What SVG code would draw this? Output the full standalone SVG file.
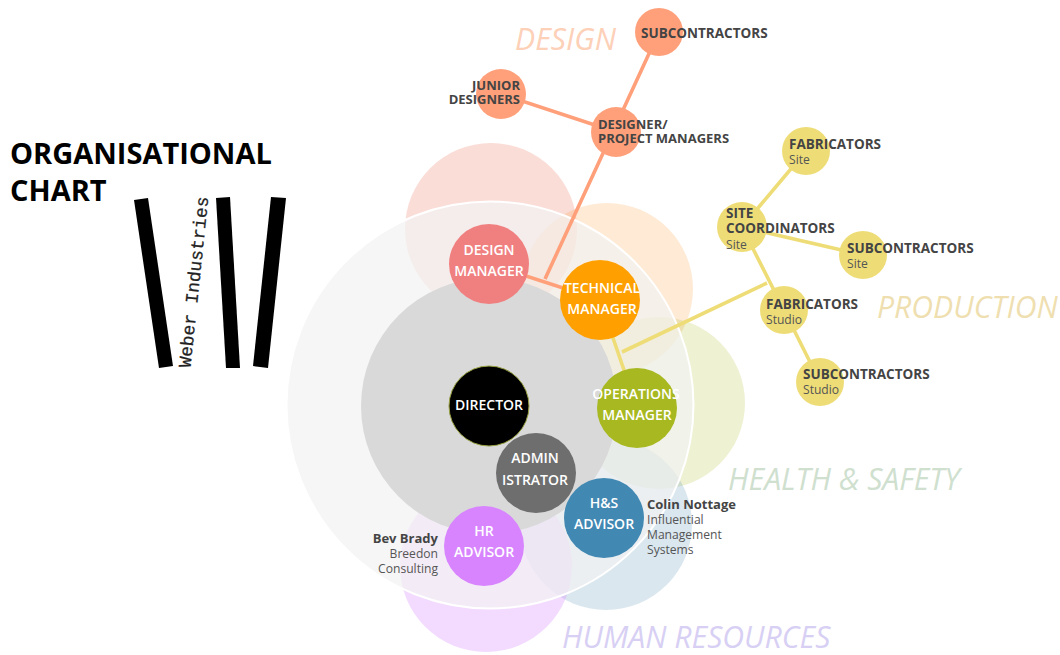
<svg xmlns="http://www.w3.org/2000/svg" width="1060" height="655" viewBox="0 0 1060 655">
<style>
text{font-family:"Open Sans","Noto Sans","DejaVu Sans",sans-serif}
.w{fill:#fff;font-size:14px;font-weight:600;text-anchor:middle}
.d{fill:#444;font-size:13.5px;font-weight:700}
.n{font-size:13px}
.s{fill:#555;font-size:12.1px}
.e{text-anchor:end}
.h{font-size:30.2px;font-style:italic}
.o{fill:#ffa07a}.y{fill:#eedd77}
.lo{stroke:#ffa07a;stroke-width:3.6;fill:none}
.ly{stroke:#eedd77;stroke-width:3.6;fill:none}
</style>
<rect width="1060" height="655" fill="#fff"/>
<g id="halos">
<circle cx="491" cy="229" r="86" fill="#f0907a" opacity=".3"/>
<circle cx="607" cy="289" r="86" fill="#f9a040" opacity=".22"/>
<circle cx="659" cy="403" r="86" fill="#a8b820" opacity=".2"/>
<circle cx="606" cy="524" r="86" fill="#4488b0" opacity=".2"/>
<circle cx="486" cy="566" r="86" fill="#d884ff" opacity=".3"/>
</g>
<circle id="outer-ring" cx="490" cy="405" r="203.5" fill="#f2f2f2" fill-opacity=".72" stroke="#fff" stroke-width="2"/>
<circle id="core" cx="489" cy="406" r="128" fill="#d9d9d9"/>
<g id="connectors">
<path class="lo" d="M659 32L545 279M501 94L616 132M489 264L600 300"/>
<path class="ly" d="M806 151L742 227L863 255M742 227L784 310L820 382M600 300L637 408M622 352L767 283"/>
</g>
<g id="title">
<text x="10" y="164" font-size="29" font-weight="700" fill="#000">ORGANISATIONAL</text>
<text x="10" y="201" font-size="29" font-weight="700" fill="#000">CHART</text>
</g>
<g id="logo">
<polygon points="134,200 148,198 173,366 159,368"/>
<polygon points="216,198 230,197 240,368 226,368"/>
<polygon points="271,197 286,198 268,368 253,366"/>
<text transform="translate(190.5,368) rotate(-84)" style="font-family:'Liberation Mono','DejaVu Sans Mono',monospace" font-size="17.9" fill="#222" stroke="#222" stroke-width=".25">Weber Industries</text>
</g>
<g id="design-manager"><circle cx="489" cy="264" r="40" fill="#f08080"/><text class="w" x="489" y="255">DESIGN</text><text class="w" x="489" y="276">MANAGER</text></g>
<g id="technical-manager"><circle cx="600" cy="300" r="40" fill="#ffa000"/><text class="w" x="602" y="293">TECHNICAL</text><text class="w" x="602" y="314">MANAGER</text></g>
<g id="director"><circle cx="489" cy="406" r="40" fill="#000" stroke="#99a040" stroke-width="1"/><text class="w" x="489" y="410">DIRECTOR</text></g>
<g id="operations-manager"><circle cx="637" cy="408" r="40" fill="#a8b820"/><text class="w" x="636" y="399">OPERATIONS</text><text class="w" x="637" y="420">MANAGER</text></g>
<g id="administrator"><circle cx="536" cy="473" r="40" fill="#6e6e6e"/><text class="w" x="535" y="463">ADMIN</text><text class="w" x="535" y="485">ISTRATOR</text></g>
<g id="hs-advisor"><circle cx="604" cy="518" r="40" fill="#4188b3"/><text class="w" x="604" y="508">H&amp;S</text><text class="w" x="604" y="529">ADVISOR</text><text class="d n" x="647" y="509">Colin Nottage</text><text class="s" x="647" y="524">Influential</text><text class="s" x="647" y="539">Management</text><text class="s" x="647" y="554">Systems</text></g>
<g id="hr-advisor"><circle cx="484" cy="546" r="40" fill="#d884ff"/><text class="w" x="484" y="536">HR</text><text class="w" x="484" y="557">ADVISOR</text><text class="d e n" x="438" y="543">Bev Brady</text><text class="s e" x="438" y="558">Breedon</text><text class="s e" x="438" y="573">Consulting</text></g>
<g id="subcontractors"><circle class="o" cx="659" cy="32" r="24"/><text class="d" x="641" y="38">SUBCONTRACTORS</text></g>
<g id="junior-designers"><circle class="o" cx="501" cy="94" r="25"/><text class="d e n" x="520" y="90">JUNIOR</text><text class="d e n" x="520" y="104">DESIGNERS</text></g>
<g id="designer-project-managers"><circle class="o" cx="616" cy="132" r="25"/><text class="d n" x="598" y="129">DESIGNER/</text><text class="d n" x="598" y="143">PROJECT MANAGERS</text></g>
<g id="fabricators-site"><circle class="y" cx="806" cy="151" r="24"/><text class="d" x="789" y="149">FABRICATORS</text><text class="s" x="789" y="164">Site</text></g>
<g id="site-coordinators"><circle class="y" cx="742" cy="227" r="25"/><text class="d" x="726" y="218">SITE</text><text class="d" x="726" y="233">COORDINATORS</text><text class="s" x="726" y="249">Site</text></g>
<g id="subcontractors-site"><circle class="y" cx="863" cy="255" r="24"/><text class="d" x="847" y="253">SUBCONTRACTORS</text><text class="s" x="847" y="268">Site</text></g>
<g id="fabricators-studio"><circle class="y" cx="784" cy="310" r="24"/><text class="d" x="766" y="309">FABRICATORS</text><text class="s" x="766" y="324">Studio</text></g>
<g id="subcontractors-studio"><circle class="y" cx="820" cy="382" r="24"/><text class="d" x="803" y="379">SUBCONTRACTORS</text><text class="s" x="803" y="394">Studio</text></g>
<g id="headings">
<text class="h" x="515" y="50" fill="#fdd0b8">DESIGN</text>
<text class="h" x="877" y="318" fill="#efdfb0">PRODUCTION</text>
<text class="h" x="728" y="490" fill="#cfe0cf">HEALTH &amp; SAFETY</text>
<text class="h" x="562" y="648" fill="#d8d0f4">HUMAN RESOURCES</text>
</g>
</svg>
